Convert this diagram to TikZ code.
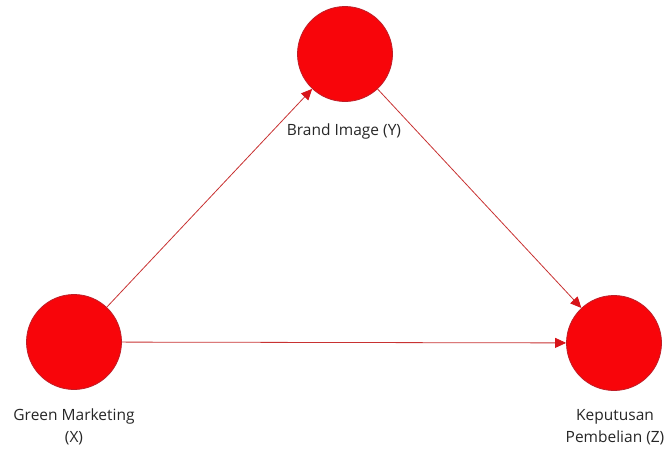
\documentclass[tikz,border=0pt]{standalone}
\usepackage{fontspec}
\setmainfont{Open Sans}
\usetikzlibrary{arrows.meta}
\definecolor{nodefill}{RGB}{248,5,10}
\definecolor{nodeedge}{RGB}{190,30,40}
\definecolor{linecol}{RGB}{200,50,50}
\definecolor{tipcol}{RGB}{215,20,25}
\tikzset{
  latent/.style={circle, fill=nodefill, draw=nodeedge, line width=0.8pt, minimum size=95pt, inner sep=0pt},
  lbl/.style={font=\fontsize{15.5}{22.5}\selectfont, text=black!85, align=center, inner sep=0pt},
  path/.style={draw=linecol, line width=0.8pt, -{Triangle[length=11pt,width=10pt,fill=tipcol,color=tipcol]}}
}
\begin{document}
\begin{tikzpicture}[x=1pt,y=-1pt]
\useasboundingbox (0,0) rectangle (667,450);
\node[latent] (Y) at (345,54) {};
\node[latent] (X) at (74,342) {};
\node[latent] (Z) at (614,343) {};
\node[lbl, anchor=base] (ly) at (344,135) {Brand Image (Y)};
\node[lbl] (lx) at (74,427) {Green Marketing\\(X)};
\node[lbl] (lz) at (615,427) {Keputusan\\Pembelian (Z)};
\draw[path] (X) -- (Y);
\draw[path] (Y) -- (Z);
\draw[path] (X) -- (Z);
\end{tikzpicture}
\end{document}
